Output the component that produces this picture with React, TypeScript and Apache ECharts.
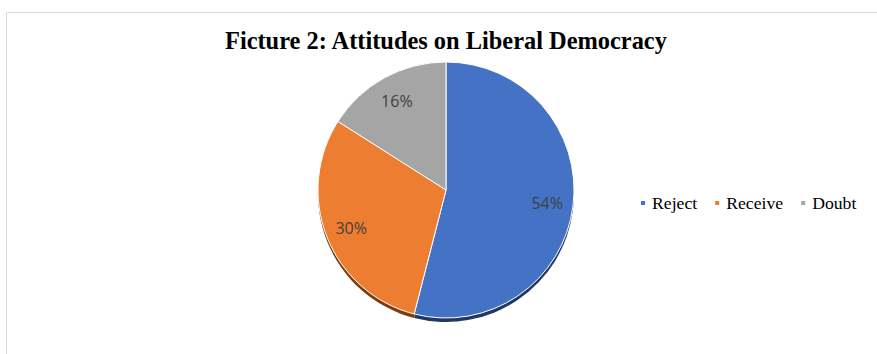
import React, { useEffect, useRef } from "react";
import * as echarts from "echarts";

const titleText = "Ficture 2: Attitudes on Liberal Democracy";
const categories = ["Reject", "Receive", "Doubt"];
const values = [54, 30, 16];
const colors = ["#4472C4", "#ED7D31", "#A5A5A5"];
const shadowColors = ["#203864", "#843C0C", "#7B7B7B"];

export default function App() {
  const ref = useRef<HTMLDivElement>(null);
  useEffect(() => {
    if (!ref.current) return;
    const chart = echarts.init(ref.current, null, { renderer: "svg" });
    const data = categories.map((name, i) => ({
      name,
      value: values[i],
      itemStyle: { color: colors[i] },
    }));
    const shadowData = categories.map((name, i) => ({
      name: name + "_shadow",
      value: values[i],
      itemStyle: { color: shadowColors[i] },
    }));
    chart.setOption({
      animation: false,
      backgroundColor: "#ffffff",
      title: {
        text: titleText,
        left: 225,
        top: 28,
        padding: 0,
        textStyle: {
          fontFamily: "Liberation Serif",
          fontWeight: "bold",
          fontSize: 24.4,
          color: "#000000",
        },
      },
      legend: {
        data: categories,
        left: 639,
        top: 194,
        padding: 0,
        icon: "rect",
        itemWidth: 6,
        itemHeight: 6,
        itemGap: 16,
        selectedMode: false,
        textStyle: {
          fontFamily: "Liberation Serif",
          fontSize: 17.7,
          color: "#000000",
          padding: [0, 0, 0, 1],
        },
      },
      graphic: [
        {
          type: "rect",
          shape: { x: 6.5, y: 12.5, width: 900, height: 400 },
          style: { fill: "none", stroke: "#d9d9d9", lineWidth: 1 },
          silent: true,
          z: -10,
        },
      ],
      series: [
        {
          type: "pie",
          center: [446, 194],
          radius: [0, 128],
          startAngle: 90,
          clockwise: true,
          silent: true,
          z: 1,
          label: { show: false },
          labelLine: { show: false },
          data: shadowData,
          legendHoverLink: false,
        },
        {
          type: "pie",
          center: [446, 190],
          radius: [0, 128],
          startAngle: 90,
          clockwise: true,
          silent: true,
          z: 2,
          itemStyle: { borderColor: "#ffffff", borderWidth: 1 },
          label: { show: false },
          labelLine: { show: false },
          data,
        },
        {
          type: "pie",
          center: [446, 190],
          radius: [78, 120],
          startAngle: 90,
          clockwise: true,
          silent: true,
          z: 3,
          itemStyle: { color: "rgba(0,0,0,0)" },
          label: {
            show: true,
            position: "inside",
            formatter: "{c}%",
            fontFamily: "Open Sans",
            fontSize: 16,
            color: "#404040",
          },
          labelLine: { show: false },
          data: categories.map((name, i) => ({ name: name + "_lbl", value: values[i] })),
        },
      ],
    });
    return () => chart.dispose();
  }, []);
  return (
    <div
      ref={ref}
      style={{ position: "fixed", left: 0, top: 0, width: 877, height: 354 }}
    />
  );
}
